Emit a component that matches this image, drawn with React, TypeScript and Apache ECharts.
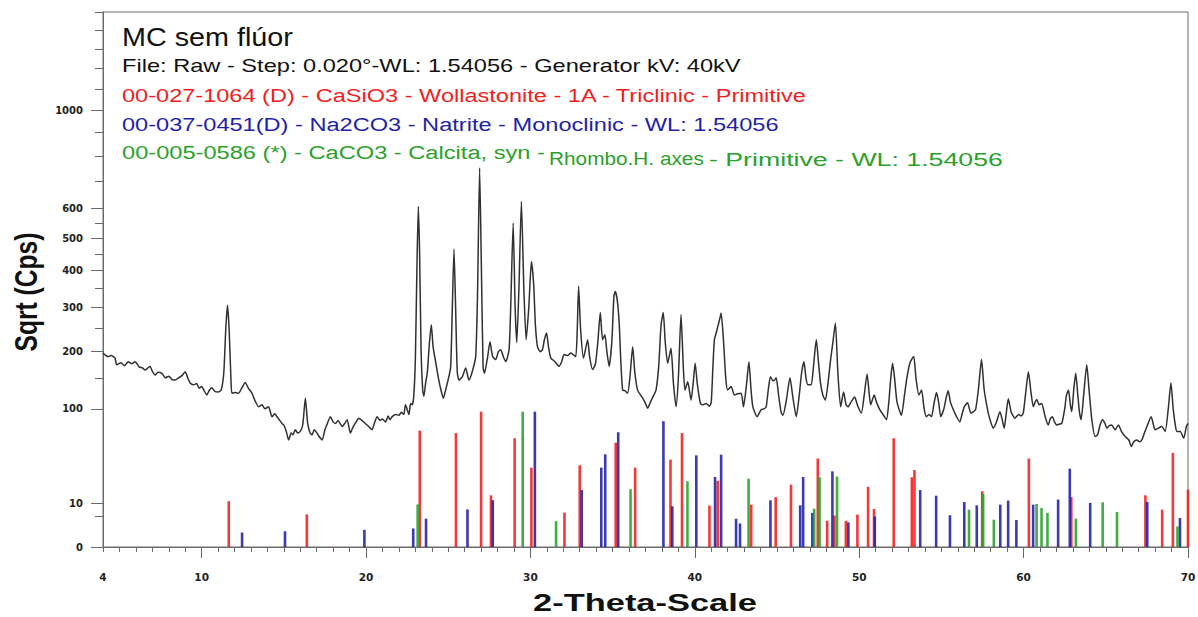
import React, { useEffect, useRef } from "react";
import * as echarts from "echarts";

// ---- data (2-theta in degrees, intensity in Cps) ----
const TRACE_THETA: number[] = [
  4.0, 4.3, 4.5, 4.73, 4.83, 5.1, 5.3, 5.54, 5.75, 5.95, 6.2, 6.4, 6.56, 6.86, 7.0, 7.17, 7.35, 7.58, 7.8, 8.0,
  8.2, 8.39, 8.6, 8.8, 9.0, 9.15, 9.3, 9.5, 9.7, 9.85, 10.0, 10.15, 10.32, 10.45, 10.62, 10.8, 11.03, 11.2, 11.35, 11.47,
  11.57, 11.67, 11.78, 11.84, 12.05, 12.25, 12.45, 12.65, 12.85, 13.06, 13.25, 13.47, 13.67, 13.85, 14.07, 14.28, 14.45, 14.58, 14.75, 14.89,
  15.0, 15.15, 15.29, 15.45, 15.55, 15.7, 15.85, 16.0, 16.15, 16.31, 16.45, 16.6, 16.72, 16.85, 17.02, 17.15, 17.33, 17.5, 17.65, 17.83,
  18.0, 18.14, 18.3, 18.55, 18.7, 18.85, 19.05, 19.2, 19.4, 19.56, 19.75, 19.95, 20.17, 20.37, 20.5, 20.68, 20.85, 21.0, 21.18, 21.35,
  21.45, 21.59, 21.8, 22.0, 22.15, 22.3, 22.4, 22.61, 22.71, 22.81, 22.9, 23.0, 23.1, 23.18, 23.26, 23.35, 23.45, 23.52, 23.62, 23.73,
  23.85, 23.97, 24.08, 24.23, 24.4, 24.55, 24.7, 24.85, 25.04, 25.15, 25.25, 25.35, 25.45, 25.55, 25.66, 25.86, 26.06, 26.26, 26.45, 26.67,
  26.78, 26.91, 27.02, 27.12, 27.2, 27.4, 27.54, 27.7, 27.89, 28.05, 28.19, 28.35, 28.5, 28.7, 28.8, 28.95, 29.07, 29.17, 29.3, 29.45,
  29.6, 29.74, 29.9, 30.06, 30.2, 30.3, 30.43, 30.6, 30.73, 30.85, 30.98, 31.1, 31.24, 31.5, 31.75, 31.9, 32.05, 32.25, 32.46, 32.6,
  32.76, 32.85, 32.93, 33.05, 33.23, 33.35, 33.48, 33.6, 33.78, 33.95, 34.1, 34.25, 34.39, 34.53, 34.65, 34.79, 34.95, 35.08, 35.16, 35.28,
  35.4, 35.5, 35.61, 35.75, 35.91, 36.05, 36.22, 36.35, 36.52, 36.83, 37.0, 37.13, 37.3, 37.45, 37.64, 37.8, 37.95, 38.08, 38.2, 38.35,
  38.55, 38.7, 38.86, 39.0, 39.16, 39.3, 39.4, 39.57, 39.77, 39.9, 40.02, 40.15, 40.34, 40.5, 40.69, 40.89, 41.0, 41.1, 41.19, 41.3,
  41.4, 41.5, 41.6, 41.75, 41.88, 42.0, 42.21, 42.41, 42.6, 42.82, 42.96, 43.15, 43.29, 43.42, 43.53, 43.79, 44.04, 44.2, 44.34, 44.47,
  44.6, 44.75, 44.85, 44.95, 45.1, 45.25, 45.36, 45.55, 45.79, 45.95, 46.17, 46.35, 46.5, 46.64, 46.76, 46.88, 47.08, 47.2, 47.39, 47.52,
  47.65, 47.8, 47.94, 48.1, 48.26, 48.4, 48.55, 48.7, 48.87, 49.05, 49.2, 49.32, 49.5, 49.72, 49.9, 50.13, 50.3, 50.48, 50.6, 50.7,
  50.91, 51.05, 51.25, 51.45, 51.66, 51.8, 51.92, 52.03, 52.15, 52.3, 52.57, 52.75, 52.9, 53.08, 53.2, 53.32, 53.45, 53.63, 53.79, 53.95,
  54.09, 54.25, 54.4, 54.55, 54.7, 54.83, 54.96, 55.15, 55.3, 55.41, 55.55, 55.72, 55.9, 56.12, 56.25, 56.39, 56.59, 56.79, 56.95, 57.08,
  57.25, 57.44, 57.6, 57.85, 58.0, 58.15, 58.35, 58.56, 58.7, 58.82, 58.95, 59.07, 59.25, 59.47, 59.7, 59.85, 59.98, 60.15, 60.29, 60.45,
  60.59, 60.7, 60.8, 60.95, 61.1, 61.3, 61.5, 61.62, 61.75, 61.88, 62.01, 62.15, 62.32, 62.5, 62.6, 62.73, 62.85, 62.93, 63.05, 63.17,
  63.3, 63.4, 63.5, 63.65, 63.84, 63.98, 64.15, 64.35, 64.5, 64.65, 64.8, 64.95, 65.06, 65.2, 65.36, 65.57, 65.77, 65.95, 66.18, 66.4,
  66.55, 66.7, 66.89, 67.05, 67.19, 67.35, 67.5, 67.76, 67.9, 68.0, 68.2, 68.41, 68.61, 68.8, 68.96, 69.1, 69.25, 69.33, 69.53, 69.74,
  69.9, 70.0,
];
const TRACE_CPS: number[] = [
  197, 190, 192, 187, 174, 178, 172, 180, 176, 180, 170, 168, 164, 171, 162, 155, 160, 158, 150, 153,
  147, 146, 150, 154, 161, 150, 141, 138, 140, 132, 135, 128, 121, 128, 133, 127, 126, 130, 160, 250,
  307, 250, 150, 124, 125, 124, 133, 142, 132, 124, 112, 103, 106, 100, 103, 89, 93, 89, 84, 80,
  78, 70, 60, 68, 66, 72, 68, 70, 78, 116, 80, 68, 66, 72, 68, 64, 60, 72, 80, 89,
  82, 80, 84, 76, 80, 85, 68, 75, 82, 87, 84, 80, 76, 72, 80, 89, 84, 86, 82, 90,
  85, 89, 92, 91, 95, 92, 106, 92, 108, 106, 118, 184, 420, 608, 450, 200, 128, 119, 140, 160,
  215, 259, 210, 180, 150, 130, 116, 130, 152, 170, 300, 465, 300, 160, 146, 152, 168, 146, 160, 190,
  330, 753, 400, 170, 158, 190, 221, 190, 184, 200, 204, 190, 180, 204, 300, 550, 300, 219, 350, 626,
  350, 225, 300, 427, 360, 260, 210, 200, 204, 225, 240, 210, 187, 180, 171, 180, 194, 192, 197, 194,
  190, 250, 356, 250, 187, 205, 225, 190, 165, 175, 220, 288, 225, 236, 200, 171, 220, 330, 342, 320,
  263, 180, 129, 128, 124, 150, 210, 160, 129, 116, 108, 101, 110, 118, 129, 170, 260, 288, 220, 177,
  207, 140, 103, 150, 283, 170, 129, 143, 113, 140, 177, 140, 108, 106, 108, 104, 110, 170, 225, 240,
  255, 270, 287, 220, 150, 129, 135, 121, 123, 124, 103, 140, 180, 130, 103, 89, 99, 100, 103, 130,
  152, 145, 146, 150, 120, 95, 91, 110, 150, 120, 89, 120, 160, 180, 150, 138, 138, 165, 225, 180,
  140, 120, 113, 140, 184, 220, 263, 160, 103, 126, 106, 103, 110, 118, 105, 94, 120, 157, 125, 106,
  121, 110, 99, 92, 85, 110, 150, 177, 150, 110, 91, 120, 150, 177, 185, 190, 150, 121, 129, 100,
  89, 92, 89, 108, 125, 110, 89, 100, 118, 128, 110, 99, 90, 82, 92, 103, 109, 94, 96, 99,
  130, 184, 130, 94, 82, 74, 82, 96, 85, 74, 95, 115, 95, 87, 92, 90, 94, 130, 161, 125,
  103, 110, 114, 106, 108, 90, 78, 86, 89, 82, 78, 79, 80, 100, 120, 129, 105, 96, 130, 158,
  120, 95, 85, 120, 174, 130, 85, 64, 66, 78, 85, 80, 74, 77, 78, 72, 78, 70, 64, 60,
  53, 58, 60, 58, 60, 68, 76, 89, 78, 72, 74, 76, 70, 100, 141, 100, 75, 70, 70, 62,
  76, 80,
];

// 00-027-1064 Wollastonite (red)
const WOLL_THETA = [11.65, 16.4, 23.27, 25.47, 27.0, 27.6, 29.04, 30.06, 32.07, 33.0, 35.19, 36.37, 38.52, 39.22, 40.89, 41.39, 43.43, 44.92, 45.85, 47.48, 48.05, 48.49, 49.19, 49.89, 50.54, 50.9, 52.1, 53.2, 53.36, 57.48, 60.32, 62.9, 67.41, 68.43, 69.08, 70.0];
const WOLL_CPS = [11, 5.6, 71, 68, 96, 14, 62, 33, 6.2, 35, 57, 33, 40, 68, 9, 23, 9.4, 13, 20.4, 41, 3.6, 5.2, 3.6, 5.5, 19, 7.6, 62, 25.5, 31, 16.3, 41, 13, 14, 7.3, 46.4, 17.2];
// 00-037-0451 Natrite (blue)
const NATR_THETA = [12.46, 15.07, 19.9, 22.87, 23.65, 26.17, 27.71, 30.27, 33.12, 34.31, 34.55, 35.34, 38.09, 38.63, 40.09, 41.23, 41.6, 42.51, 42.75, 44.6, 46.41, 46.59, 47.15, 48.37, 49.34, 50.95, 53.71, 54.68, 55.52, 56.39, 57.15, 58.58, 59.06, 59.56, 60.58, 62.1, 62.81, 64.05, 67.52, 69.51];
const NATR_CPS = [1.1, 1.3, 1.55, 1.8, 4.2, 7.4, 11.5, 96, 17, 33, 45, 69, 83, 8.7, 44, 25.7, 44.7, 4.2, 2.9, 11.4, 9.1, 25.7, 6.1, 30, 3.2, 4.9, 17, 13.8, 5.3, 10.6, 9.1, 9.4, 11.3, 3.8, 9.4, 11.8, 32.2, 10.2, 10.6, 4.4];
// 00-005-0586 Calcite (green)
const CALC_THETA = [23.14, 29.53, 31.56, 36.09, 39.55, 43.27, 47.26, 47.59, 48.65, 56.68, 57.54, 58.19, 60.79, 61.09, 61.45, 63.18, 64.81, 65.68, 69.36];
const CALC_CPS = [9.5, 96, 3.5, 17.5, 22.6, 24.5, 7.7, 25.5, 26, 7.3, 14.9, 3.9, 9.7, 8, 6.1, 4.2, 10.5, 6.4, 2.2];

// axis ticks
const Y_MAX = 1500;
const Y_LABELS = [0, 10, 100, 200, 300, 400, 500, 600, 1000];
const Y_MINOR = [5, 150, 250, 350, 450, 550, 700, 800, 900, 1100, 1200, 1300, 1400, 1500];
const X_LABELS = [4, 10, 20, 30, 40, 50, 60, 70];
const X_MAJOR = [10, 20, 30, 40, 50, 60, 70];
const X_MINOR = Array.from({ length: 67 }, (_, i) => 4 + i);

// texts
const TITLE = "MC sem flúor";
const FILE_LINE = "File: Raw - Step: 0.020°-WL: 1.54056 - Generator kV: 40kV";
const RED_LINE = "00-027-1064 (D) - CaSiO3 - Wollastonite - 1A - Triclinic - Primitive";
const BLUE_LINE = "00-037-0451(D) - Na2CO3 - Natrite - Monoclinic - WL: 1.54056";
const GREEN_A = "00-005-0586 (*) - CaCO3 - Calcita, syn -";
const GREEN_B = "Rhombo.H. axes";
const GREEN_C = "- Primitive - WL: 1.54056";

const RED = "#f21d1d";
const BLUE = "#1f1fa8";
const GREEN = "#2aa12a";

const sq = (v: number) => Math.sqrt(v);

let measureCtx: CanvasRenderingContext2D | null = null;
function measure(text: string, font: string): number {
  if (!measureCtx) measureCtx = document.createElement("canvas").getContext("2d");
  measureCtx!.font = font;
  return measureCtx!.measureText(text).width;
}

function stretched(text: string, x: number, cy: number, xEnd: number, size: number, color: string, weight = "normal") {
  const font = `${weight} ${size}px "Liberation Sans", Arial, sans-serif`;
  const w = measure(text, font);
  return {
    type: "text",
    x,
    y: cy,
    scaleX: (xEnd - x) / w,
    silent: true,
    style: { text, fill: color, font, textAlign: "left", textVerticalAlign: "middle" },
  };
}

function stickSeries(name: string, thetas: number[], cps: number[], color: string) {
  return {
    name,
    type: "custom",
    xAxisIndex: 0,
    yAxisIndex: 0,
    encode: { x: 0, y: 1 },
    data: thetas.map((t, i) => [t, sq(cps[i])]),
    renderItem: (params: any, api: any) => {
      const t = api.value(0);
      const v = api.value(1);
      const p0 = api.coord([t, 0]);
      const p1 = api.coord([t, v]);
      const w = 2.6;
      return {
        type: "rect",
        shape: { x: p0[0] - w / 2, y: p1[1], width: w, height: p0[1] - p1[1] },
        style: { fill: color, opacity: 0.88 },
      };
    },
    z: 3,
  };
}

export default function App() {
  const ref = useRef<HTMLDivElement>(null);
  useEffect(() => {
    if (!ref.current) return;
    const chart = echarts.init(ref.current, null, { renderer: "svg" });

    const axisFont = '"DejaVu Sans", "Liberation Sans", sans-serif';
    const lineColor = "#6a6a6a";

    // axis names
    const xNameFont = `bold 24px "Liberation Sans", Arial, sans-serif`;
    const xNameW = measure("2-Theta-Scale", xNameFont);
    const yNameBase = measure("Sqrt (Cps)", xNameFont);
    const yNameSize = (24 * 119) / yNameBase;

    const option: any = {
      animation: false,
      backgroundColor: "#ffffff",
      textStyle: { fontFamily: axisFont },
      grid: {
        left: 103,
        top: 12,
        width: 1085,
        height: 535,
        show: true,
        borderColor: lineColor,
        borderWidth: 1,
        containLabel: false,
        outerBoundsMode: "none",
      },
      xAxis: [
        {
          type: "value",
          min: 4,
          max: 70,
          position: "bottom",
          axisLine: { show: true, onZero: false, lineStyle: { color: lineColor, width: 1 } },
          axisTick: { show: true, customValues: X_MINOR, length: 5, lineStyle: { color: lineColor } },
          axisLabel: {
            show: true,
            customValues: X_LABELS,
            margin: 24,
            fontSize: 10.5,
            fontWeight: "bold",
            fontFamily: axisFont,
            color: "#222",
          },
          splitLine: { show: false },
        },
        {
          type: "value",
          min: 4,
          max: 70,
          position: "bottom",
          offset: 0,
          axisLine: { show: false, onZero: false },
          axisTick: { show: true, customValues: X_MAJOR, length: 11, lineStyle: { color: lineColor } },
          axisLabel: { show: false },
          splitLine: { show: false },
        },
      ],
      yAxis: [
        {
          type: "value",
          min: 0,
          max: sq(Y_MAX),
          position: "left",
          axisLine: { show: true, onZero: false, lineStyle: { color: lineColor, width: 1 } },
          axisTick: { show: true, customValues: Y_LABELS.map(sq), length: 12, lineStyle: { color: lineColor } },
          axisLabel: {
            show: true,
            customValues: Y_LABELS.map(sq),
            formatter: (v: number) => String(Math.round(v * v)),
            margin: 20,
            fontSize: 10,
            fontWeight: "bold",
            fontFamily: axisFont,
            color: "#222",
          },
          splitLine: { show: false },
        },
        {
          type: "value",
          min: 0,
          max: sq(Y_MAX),
          position: "left",
          offset: 0,
          axisLine: { show: false, onZero: false },
          axisTick: { show: true, customValues: Y_MINOR.map(sq), length: 8, lineStyle: { color: lineColor } },
          axisLabel: { show: false },
          splitLine: { show: false },
        },
      ],
      series: [
        stickSeries("Wollastonite", WOLL_THETA, WOLL_CPS, RED),
        stickSeries("Natrite", NATR_THETA, NATR_CPS, BLUE),
        stickSeries("Calcite", CALC_THETA, CALC_CPS, GREEN),
        {
          name: "MC sem flúor",
          type: "line",
          xAxisIndex: 0,
          yAxisIndex: 0,
          data: TRACE_THETA.map((t, i) => [t, sq(TRACE_CPS[i])]),
          showSymbol: false,
          symbol: "none",
          smooth: 0.2,
          lineStyle: { color: "#303030", width: 1.5 },
          z: 4,
        },
      ],
      graphic: [
        stretched(TITLE, 122, 38, 293, 25, "#111"),
        stretched(FILE_LINE, 122, 66, 741, 18, "#111"),
        stretched(RED_LINE, 122, 96, 808, 19, RED),
        stretched(BLUE_LINE, 122, 125, 779, 19, BLUE),
        stretched(GREEN_A, 122, 153, 545, 19, GREEN),
        stretched(GREEN_B, 549, 158, 704, 19, GREEN),
        stretched(GREEN_C, 709, 159, 1003, 19, GREEN),
        {
          type: "text",
          x: 645,
          y: 603,
          scaleX: 224 / xNameW,
          silent: true,
          style: { text: "2-Theta-Scale", fill: "#111", font: xNameFont, textAlign: "center", textVerticalAlign: "middle" },
        },
        {
          type: "text",
          x: 27,
          y: 292,
          rotation: Math.PI / 2,
          scaleY: 1.25,
          silent: true,
          style: {
            text: "Sqrt (Cps)",
            fill: "#111",
            font: `bold ${yNameSize.toFixed(1)}px "Liberation Sans", Arial, sans-serif`,
            textAlign: "center",
            textVerticalAlign: "middle",
          },
        },
      ],
    };
    chart.setOption(option);
    return () => chart.dispose();
  }, []);

  return (
    <div
      ref={ref}
      style={{ position: "fixed", left: 0, top: 0, width: 1198, height: 617, background: "#fff" }}
    />
  );
}
